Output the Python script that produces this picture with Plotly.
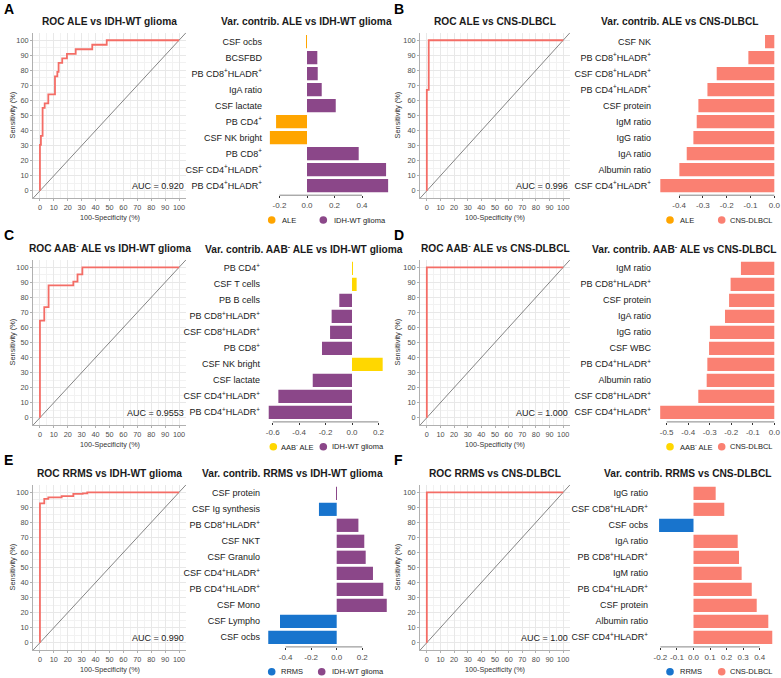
import plotly.graph_objects as go

W, H = 781, 678
FONT = "Liberation Sans, Arial, Helvetica, sans-serif"

# ---------------- data ----------------
# ROC curves: 100-Specificity (%) and Sensitivity (%) at each step corner
roc_a_fpr = [0, 0, 0.7, 1.9, 3.4, 6.0, 10.8, 12.5, 13.4, 16.0, 19.4, 25.7, 37.6, 48.0, 100]
roc_a_tpr = [0, 30.5, 36.5, 55, 58, 64, 76, 79, 85, 88, 91, 94, 97, 100, 100]
roc_b_fpr = [0, 0, 1.4, 100]
roc_b_tpr = [0, 67, 100, 100]
roc_c_fpr = [0, 0, 3.1, 6.2, 24.0, 27.0, 30.5, 100]
roc_c_tpr = [0, 64.5, 73.5, 88, 90.5, 95.3, 100, 100]
roc_d_fpr = [0, 0, 100]
roc_d_tpr = [0, 100, 100]
roc_e_fpr = [0, 0, 3.1, 6.0, 15.6, 24.0, 30.7, 34.0, 100]
roc_e_tpr = [0, 92.7, 95.6, 96.7, 97.5, 98.9, 99.3, 100, 100]
roc_f_fpr = [0, 0, 100]
roc_f_tpr = [0, 100, 100]

roc_titles = ["ROC ALE vs IDH-WT glioma", "ROC ALE vs CNS-DLBCL",
              "ROC AAB<sup>-</sup> ALE vs IDH-WT glioma", "ROC AAB<sup>-</sup> ALE vs CNS-DLBCL",
              "ROC RRMS vs IDH-WT glioma", "ROC RRMS vs CNS-DLBCL"]
auc_labels = ["AUC = 0.920", "AUC = 0.996", "AUC = 0.9553", "AUC = 1.000", "AUC = 0.990", "AUC = 1.00"]
roc_ticks = [0, 10, 20, 30, 40, 50, 60, 70, 80, 90, 100]

SUP = "<sup>+</sup>"
bar_a_labels = ["CSF ocbs", "BCSFBD", f"PB CD8{SUP}HLADR{SUP}", "IgA ratio", "CSF lactate",
                f"PB CD4{SUP}", "CSF NK bright", f"PB CD8{SUP}", f"CSF CD4{SUP}HLADR{SUP}", f"PB CD4{SUP}HLADR{SUP}"]
bar_a_values = [-0.003, 0.075, 0.078, 0.107, 0.209, -0.225, -0.270, 0.376, 0.575, 0.590]

bar_b_labels = ["CSF NK", f"PB CD8{SUP}HLADR{SUP}", f"CSF CD8{SUP}HLADR{SUP}", f"PB CD4{SUP}HLADR{SUP}",
                "CSF protein", "IgM ratio", "IgG ratio", "IgA ratio", "Albumin ratio", f"CSF CD4{SUP}HLADR{SUP}"]
bar_b_values = [-0.039, -0.109, -0.242, -0.281, -0.319, -0.326, -0.340, -0.368, -0.399, -0.479]

bar_c_labels = [f"PB CD4{SUP}", "CSF T cells", "PB B cells", f"PB CD8{SUP}HLADR{SUP}", f"CSF CD8{SUP}HLADR{SUP}",
                f"PB CD8{SUP}", "CSF NK bright", "CSF lactate", f"CSF CD4{SUP}HLADR{SUP}", f"PB CD4{SUP}HLADR{SUP}"]
bar_c_values = [0.003, 0.035, -0.096, -0.154, -0.166, -0.227, 0.232, -0.297, -0.557, -0.630]

bar_d_labels = ["IgM ratio", f"PB CD8{SUP}HLADR{SUP}", "CSF protein", "IgA ratio", "IgG ratio", "CSF WBC",
                f"PB CD4{SUP}HLADR{SUP}", "Albumin ratio", f"CSF CD8{SUP}HLADR{SUP}", f"CSF CD4{SUP}HLADR{SUP}"]
bar_d_values = [-0.155, -0.203, -0.210, -0.229, -0.299, -0.303, -0.311, -0.314, -0.353, -0.530]

bar_e_labels = ["CSF protein", "CSF Ig synthesis", f"PB CD8{SUP}HLADR{SUP}", "CSF NKT", "CSF Granulo",
                f"CSF CD4{SUP}HLADR{SUP}", f"PB CD4{SUP}HLADR{SUP}", "CSF Mono", "CSF Lympho", "CSF ocbs"]
bar_e_values = [0.002, -0.139, 0.170, 0.216, 0.227, 0.284, 0.365, 0.392, -0.444, -0.536]

bar_f_labels = ["IgG ratio", f"CSF CD8{SUP}HLADR{SUP}", "CSF ocbs", "IgA ratio", f"PB CD8{SUP}HLADR{SUP}",
                "IgM ratio", f"PB CD4{SUP}HLADR{SUP}", "CSF protein", "Albumin ratio", f"CSF CD4{SUP}HLADR{SUP}"]
bar_f_values = [0.134, 0.186, -0.208, 0.267, 0.275, 0.291, 0.352, 0.382, 0.452, 0.476]

bar_titles = ["Var. contrib. ALE vs IDH-WT glioma", "Var. contrib. ALE vs CNS-DLBCL",
              "Var. contrib. AAB<sup>-</sup> ALE vs IDH-WT glioma", "Var. contrib. AAB<sup>-</sup> ALE vs CNS-DLBCL",
              "Var. contrib. RRMS vs IDH-WT glioma", "Var. contrib. RRMS vs CNS-DLBCL"]
bar_ticks_a = [-0.2, 0.0, 0.2, 0.4]
bar_ticks_b = [-0.4, -0.3, -0.2, -0.1, 0.0]
bar_ticks_c = [-0.6, -0.4, -0.2, 0.0, 0.2]
bar_ticks_d = [-0.5, -0.4, -0.3, -0.2, -0.1, 0.0]
bar_ticks_e = [-0.4, -0.2, 0.0, 0.2]
bar_ticks_f = [-0.2, -0.1, 0.0, 0.1, 0.2, 0.3, 0.4]

# legend items per panel, and (group of negative bars, group of positive bars)
legend_a = ["ALE", "IDH-WT glioma"]
legend_b = ["ALE", "CNS-DLBCL"]
legend_c = ["AAB<sup>-</sup> ALE", "IDH-WT glioma"]
legend_d = ["AAB<sup>-</sup> ALE", "CNS-DLBCL"]
legend_e = ["RRMS", "IDH-WT glioma"]
legend_f = ["RRMS", "CNS-DLBCL"]
sign_groups = [("ALE", "IDH-WT glioma"), ("CNS-DLBCL", "ALE"),
               ("IDH-WT glioma", "AAB<sup>-</sup> ALE"), ("CNS-DLBCL", "AAB<sup>-</sup> ALE"),
               ("RRMS", "IDH-WT glioma"), ("RRMS", "CNS-DLBCL")]

# ---------------- styles ----------------
GROUP_COLORS = {"ALE": "#FFA500", "IDH-WT glioma": "#8B4789", "CNS-DLBCL": "#FA8072",
                "AAB<sup>-</sup> ALE": "#FFD700", "RRMS": "#1874CD"}
ROC_COLOR = "#F46D66"
letters = ["A", "B", "C", "D", "E", "F"]


def fx(p):
    return p / W


def fy(p):
    return 1 - p / H


roc_x_dom = [(33, 186), (420, 570)]
roc_y_dom = [(32.7, 198.3), (259.8, 425.2), (484.8, 650.2)]
bar_x_dom = [(266, 390), (655, 780), (264, 388), (655, 780), (264, 390), (652, 780)]
bar_x_rng = [(-0.2982, 0.6036), (-0.5013, 0.0239), (-0.6657, 0.2723),
             (-0.5541, 0.0265), (-0.5693, 0.4174), (-0.2508, 0.5227)]
bar_y_dom = [(32.0, 195.2), (258.7, 421.9), (483.7, 646.9)]
roc_title_y = [21, 248.3, 473.3]
bar_title_pos = [(306, 21), (680, 21), (304, 249), (684, 249), (292, 473.3), (688, 473.3)]
letter_y = [9, 235, 460]
ytitle_x = [12, 397]
legend_circle_x = [[271.7, 323.3], [670, 721.7], [273.3, 323.3], [670, 721.7], [271.7, 321.7], [670, 721.7]]
legend_text_x = [[280, 331.7], [678, 728.3], [279.3, 330], [677.7, 728.3], [279.3, 330], [677.7, 728.3]]
legend_y = [220, 446.7, 671.7]

roc_data = [(roc_a_fpr, roc_a_tpr), (roc_b_fpr, roc_b_tpr), (roc_c_fpr, roc_c_tpr),
            (roc_d_fpr, roc_d_tpr), (roc_e_fpr, roc_e_tpr), (roc_f_fpr, roc_f_tpr)]
bar_data = [(bar_a_labels, bar_a_values), (bar_b_labels, bar_b_values), (bar_c_labels, bar_c_values),
            (bar_d_labels, bar_d_values), (bar_e_labels, bar_e_values), (bar_f_labels, bar_f_values)]
bar_ticks = [bar_ticks_a, bar_ticks_b, bar_ticks_c, bar_ticks_d, bar_ticks_e, bar_ticks_f]
legends = [legend_a, legend_b, legend_c, legend_d, legend_e, legend_f]

fig = go.Figure()
layout = {}
shapes = []
annotations = []


def axkeys(n):
    return ("xaxis" if n == 1 else f"xaxis{n}", "yaxis" if n == 1 else f"yaxis{n}",
            "x" if n == 1 else f"x{n}", "y" if n == 1 else f"y{n}")


def ann(x, y, text, size, bold=False, xanchor="center", color="#1A1A1A", **kw):
    annotations.append(dict(x=x, y=y, xref="paper", yref="paper", text=(f"<b>{text}</b>" if bold else text),
                            showarrow=False, xanchor=xanchor, yanchor="middle",
                            font=dict(family=FONT, size=size, color=color), **kw))


for i in range(6):
    row, col = divmod(i, 2)
    # ---------- ROC panel ----------
    n = i + 1
    xk, yk, xr, yr = axkeys(n)
    xd, yd = roc_x_dom[col], roc_y_dom[row]
    common = dict(range=[-5, 105], tickvals=roc_ticks, showgrid=True, gridcolor="#E8E8E8", gridwidth=0.8,
                  minor=dict(dtick=5, tick0=0, showgrid=True, gridcolor="#F2F2F2", gridwidth=0.6),
                  zeroline=False, showline=True, linecolor="#B0B0B0", linewidth=1,
                  ticks="outside", ticklen=2, tickcolor="#B0B0B0",
                  tickfont=dict(family=FONT, size=7.3, color="#4D4D4D"), fixedrange=True)
    layout[xk] = dict(domain=[fx(xd[0]), fx(xd[1])], anchor=yr, **common)
    layout[yk] = dict(domain=[fy(yd[1]), fy(yd[0])], anchor=xr, **common)
    fig.add_trace(go.Scatter(x=[-5, 105], y=[-5, 105], mode="lines", line=dict(color="#333333", width=0.6),
                             xaxis=xr, yaxis=yr, showlegend=False, hoverinfo="skip"))
    fpr, tpr = roc_data[i]
    fig.add_trace(go.Scatter(x=fpr, y=tpr, mode="lines", line=dict(color=ROC_COLOR, width=1.8, shape="hv"),
                             xaxis=xr, yaxis=yr, showlegend=False))
    annotations.append(dict(x=105, y=3, xref=xr, yref=yr, text=auc_labels[i], showarrow=False,
                            xanchor="right", yanchor="middle", font=dict(family=FONT, size=9, color="#1A1A1A")))
    cx = (xd[0] + xd[1]) / 2
    ann(fx(cx), fy(roc_title_y[row]), roc_titles[i], 10.2, bold=True)
    ann(fx(cx), fy(yd[1] + 19), "100-Specificity (%)", 7.2, color="#333333")
    ann(fx(ytitle_x[col]), fy((yd[0] + yd[1]) / 2), "Sensitivity (%)", 7.4, color="#333333", textangle=-90)
    ann(fx(2 + col * 390), fy(letter_y[row]), letters[i], 14, bold=True, xanchor="left", color="#000000")

    # ---------- variable contribution panel ----------
    m = i + 7
    xk, yk, xr, yr = axkeys(m)
    labels, values = bar_data[i]
    neg_g, pos_g = sign_groups[i]
    colors = [GROUP_COLORS[neg_g] if v < 0 else GROUP_COLORS[pos_g] for v in values]
    bd = bar_y_dom[row]
    bx = bar_x_dom[i]
    ticks = bar_ticks[i]
    layout[xk] = dict(domain=[fx(bx[0]), fx(bx[1])], range=list(bar_x_rng[i]), anchor=yr,
                      tickvals=ticks, ticktext=[f"{t:.1f}" for t in ticks],
                      showgrid=False, zeroline=False, showline=False, ticks="outside", ticklen=2,
                      tickcolor="#333333", tickwidth=0.6,
                      tickfont=dict(family=FONT, size=8, color="#4D4D4D"), fixedrange=True)
    layout[yk] = dict(domain=[fy(bd[1]), fy(bd[0])], anchor=xr, type="category",
                      categoryorder="array", categoryarray=labels, range=[len(labels) - 0.4, -0.6],
                      showgrid=False, zeroline=False, showline=False, ticks="",
                      ticklabelstandoff=3,
                      tickfont=dict(family=FONT, size=9, color="#1A1A1A"), fixedrange=True)
    fig.add_trace(go.Bar(x=values, y=labels, orientation="h", marker=dict(color=colors, line=dict(width=0)),
                         xaxis=xr, yaxis=yr, showlegend=False))
    shapes.append(dict(type="line", xref=xr, yref=f"{yr} domain", x0=ticks[0], x1=ticks[-1], y0=0, y1=0,
                       line=dict(color="#333333", width=0.6)))
    tx, ty = bar_title_pos[i]
    ann(fx(tx), fy(ty), bar_titles[i], 10.2, bold=True)
    for k, name in enumerate(legends[i]):
        cxp = legend_circle_x[i][k]
        cyp = legend_y[row]
        r = 3.8
        shapes.append(dict(type="circle", xref="paper", yref="paper",
                           x0=fx(cxp - r), x1=fx(cxp + r), y0=fy(cyp + r), y1=fy(cyp - r),
                           fillcolor=GROUP_COLORS[name], line=dict(width=0)))
        ann(fx(legend_text_x[i][k]), fy(cyp), name, 7.5, xanchor="left", color="#1A1A1A")

fig.update_layout(width=W, height=H, margin=dict(l=0, r=0, t=0, b=0), paper_bgcolor="white",
                  plot_bgcolor="white", bargap=0.17, showlegend=False, shapes=shapes,
                  annotations=annotations, font=dict(family=FONT), **layout)

fig.write_html("out.html", config={"displayModeBar": False},
               post_script="document.body.style.margin='0px';")
